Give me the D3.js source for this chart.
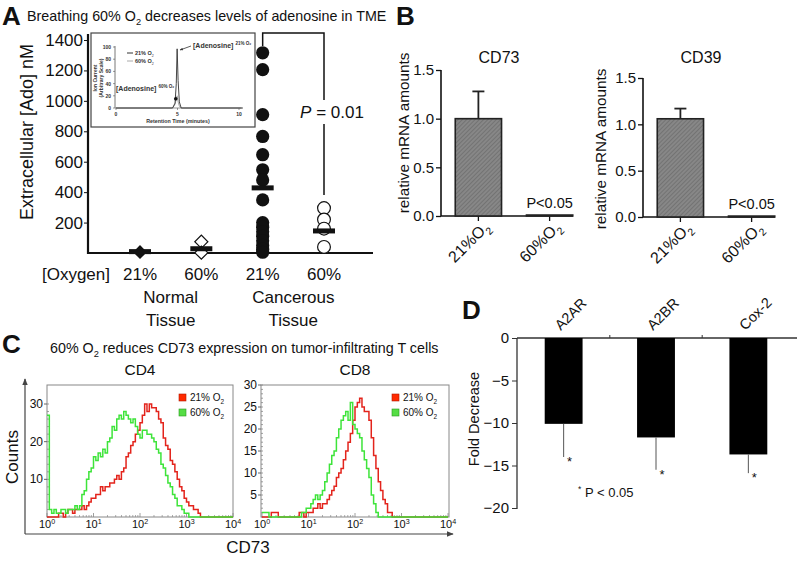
<!DOCTYPE html>
<html><head><meta charset="utf-8">
<script src="https://cdn.jsdelivr.net/npm/d3@7"></script>
<style>body{margin:0;background:#fff}svg{display:block}text{font-family:"Liberation Sans",Arial,sans-serif}</style>
</head><body><svg id="c" width="800" height="570"></svg>
<script>
// ---------------- DATA ----------------
// Panel A
const aOxygen = ["21%","60%","21%","60%"];
const aGroups = [["Normal","Tissue"],["Cancerous","Tissue"]];
const aNormal21 = [9, 3];
const aNormal60 = [74, 2];
const aCancer21 = [1316,1205,909,766,646,547,480,349,200,170,140,110,80,50,25,5];
const aCancer60 = [295,220,160,40];
const aMedians = [9, 28, 428, 145];
const aTicks = [200,400,600,800,1000,1200,1400];
const aPValue = "0.01";
// Panel A inset (chromatogram)
const insetTime = [0,4.6,4.8,4.9,4.97,5.05,5.15,5.3,10.3];
const inset21 = [0,0,8,40,97,45,10,0,0];
const inset60 = [0,0,6,15,20,10,3,0,0];
const insetTicksY = [0,20,40,60,80,100];
const insetTicksX = [0,5,10];
// Panel B
const bCats = ["21%","60%"];
const bCD73 = [1.0, 0.01];
const bCD73Err = [0.28, 0];
const bCD39 = [1.06, 0.01];
const bCD39Err = [0.11, 0];
const bTicks = [0,0.5,1.0,1.5];
// Panel C (counts per 0.05-decade bin, from 10^0)
const cBinWidth = 0.05;
const cd4Red = [0,0,0,0,0, 1,1,0,1,2, 2,1,2,2,2, 3,2,3,4,5, 5,6,6,8,7, 8,8,9,9,10, 11,10,12,13,16, 17,19,20,22,23, 25,27,30,28,30, 29,29,28,26,25, 21,19,18,15,14, 12,10,8,7,5, 4,3,3,2,2, 1,0,0,0,0, 0,0,0,0,0, 0,0,0,0,0];
const cd4Green = [27,2,1,2,1, 1,2,2,1,2, 2,2,3,2,3, 6,7,10,12,13, 16,15,17,16,18, 17,20,21,24,23, 26,27,26,28,27, 26,25,26,24,22, 21,23,23,22,22, 21,20,18,17,14, 13,11,9,8,6, 5,3,3,2,1, 1,0,0,0,0, 0,0,0,0,0, 0,0,0,0,0, 0,0,0,0,0];
const cd8Red = [0,0,0,0,1, 1,1,0,0,0, 0,0,0,0,0, 0,1,1,0,1, 1,1,2,2,3, 2,3,3,4,5, 6,7,9,10,11, 13,15,17,19,22, 25,26,27,25,24, 24,22,18,14,11, 8,6,4,3,1, 1,0,0,0,0, 0,0,0,0,0, 0,0,0,0,0, 0,0,0,0,0, 0,0,0,0,0];
const cd8Green = [1,1,1,0,0, 0,0,0,0,0, 0,0,0,0,0, 0,0,1,1,2, 2,3,4,5,4, 5,6,8,10,12, 14,15,18,20,22, 23,24,22,26,21, 20,19,18,15,13, 11,9,5,3,1, 0,0,0,0,0, 0,0,0,0,0, 0,0,0,0,0, 0,0,0,0,0, 0,0,0,0,0, 0,0,0,0,0];
const cd4YTicks = [10,20,30];
const cd8YTicks = [5,10,15,20,25,30];
const cXTicks = [0,1,2,3,4];
const cLegend = ["21% O","60% O"];
// Panel D
const dCats = ["A2AR","A2BR","Cox-2"];
const dValues = [-10.1,-11.7,-13.7];
const dErrors = [-14.0,-15.5,-15.9];
const dTicks = [0,-5,-10,-15,-20];

// ---------------- HELPERS ----------------
const F = '"Liberation Sans",Arial,sans-serif';
const svg = d3.select("#c");
svg.append("rect").attr("width",800).attr("height",570).attr("fill","#fff");
const defs = svg.append("defs");
const pat = defs.append("pattern").attr("id","hatch").attr("width",3).attr("height",3)
  .attr("patternUnits","userSpaceOnUse").attr("patternTransform","rotate(45)");
pat.append("rect").attr("width",3).attr("height",3).attr("fill","#878787");
pat.append("line").attr("x1",0).attr("y1",0).attr("x2",0).attr("y2",3).attr("stroke","#666").attr("stroke-width",1.2);
defs.append("marker").attr("id","arr").attr("viewBox","0 0 10 10").attr("refX",9).attr("refY",5)
  .attr("markerWidth",6).attr("markerHeight",6).attr("orient","auto")
  .append("path").attr("d","M0,1 L10,5 L0,9 Z").attr("fill","#444");
defs.append("marker").attr("id","arrS").attr("viewBox","0 0 10 10").attr("refX",9).attr("refY",5)
  .attr("markerWidth",4).attr("markerHeight",4).attr("orient","auto")
  .append("path").attr("d","M0,1 L10,5 L0,9 Z").attr("fill","#333");

function rich(g, x, y, segs, size, anchor, extra) {
  const t = g.append("text").attr("x",x).attr("y",y).attr("font-size",size)
    .attr("text-anchor",anchor||"start").attr("fill","#111");
  if (extra) extra(t);
  let shift = 0;
  segs.forEach(s => {
    const target = s.sub ? size*0.3 : s.sup ? -size*0.4 : 0;
    t.append("tspan").attr("dy", target - shift)
      .attr("font-size", (s.sub||s.sup) ? size*0.65 : size)
      .attr("font-style", s.it ? "italic" : null)
      .attr("font-weight", s.b ? "bold" : null)
      .text(s.t);
    shift = target;
  });
  return t;
}
function txt(g, x, y, s, size, anchor, weight) {
  return g.append("text").attr("x",x).attr("y",y).attr("font-size",size)
    .attr("text-anchor",anchor||"start").attr("font-weight",weight||null).attr("fill","#111").text(s);
}

// ---------------- PANEL A ----------------
const gA = svg.append("g");
txt(gA, 2, 25, "A", 26, "start", "bold");
rich(gA, 27, 21, [{t:"Breathing 60% O"},{t:"2",sub:true},{t:" decreases levels of adenosine in TME"}], 14.3);
const yA = d3.scaleLinear().domain([0,1400]).range([253,40]);
const xA = d3.scalePoint().domain(d3.range(aOxygen.length)).range([140,324]);
gA.append("g").attr("transform","translate(88,0)")
  .call(d3.axisLeft(yA).tickValues(aTicks).tickFormat(d3.format("d")).tickSize(4).tickPadding(1))
  .call(g=>g.select(".domain").remove())
  .attr("font-family",F).attr("font-size",17)
  .call(g=>g.selectAll("line").attr("stroke","#111"))
  .call(g=>g.selectAll("text").attr("fill","#111"));
gA.append("line").attr("x1",88).attr("x2",88).attr("y1",34).attr("y2",254).attr("stroke","#111").attr("stroke-width",2.2);
gA.append("line").attr("x1",87).attr("x2",373).attr("y1",253).attr("y2",253).attr("stroke","#111").attr("stroke-width",2.2);
gA.append("text").attr("transform","translate(33,132) rotate(-90)").attr("text-anchor","middle")
  .attr("font-size",18).attr("fill","#111").text("Extracellular [Ado] nM");
txt(gA, 110, 280, "[Oxygen]", 17, "end");
aOxygen.forEach((o,i)=>txt(gA, xA(i), 280, o, 17, "middle"));
aGroups.forEach((gr,i)=>{
  const cx = (xA(i*2)+xA(i*2+1))/2;
  txt(gA, cx, 303, gr[0], 17, "middle");
  txt(gA, cx, 326, gr[1], 17, "middle");
});
// significance bracket
gA.append("path").attr("d",`M${xA(2)},46 V33 H${xA(3)} V100 M${xA(3)},124 V195`)
  .attr("fill","none").attr("stroke","#111").attr("stroke-width",1.5);
rich(gA, xA(3)+8, 118, [{t:"P",it:true},{t:" = "+aPValue}], 17, "middle");
// points
const diamond = d3.symbol().type(d3.symbolSquare).size(85);
gA.selectAll(".n21").data(aNormal21).join("path")
  .attr("d",diamond).attr("transform",d=>`translate(${xA(0)},${yA(d)}) rotate(45)`).attr("fill","#111");
gA.selectAll(".n60").data(aNormal60).join("path")
  .attr("d",diamond).attr("transform",d=>`translate(${xA(1)},${yA(d)}) rotate(45)`)
  .attr("fill","#fff").attr("stroke","#111").attr("stroke-width",1.2);
gA.selectAll(".c21").data(aCancer21).join("circle")
  .attr("cx",xA(2)).attr("cy",d=>yA(d)).attr("r",6.6).attr("fill","#111");
gA.selectAll(".c60").data(aCancer60).join("circle")
  .attr("cx",xA(3)).attr("cy",d=>yA(d)).attr("r",6.4).attr("fill","#fff").attr("stroke","#111").attr("stroke-width",1.2);
gA.selectAll(".med").data(aMedians).join("rect")
  .attr("x",(d,i)=>xA(i)-11).attr("y",d=>yA(d)-2.5).attr("width",22).attr("height",5).attr("fill","#111");

// inset
const gI = svg.append("g");
gI.append("rect").attr("x",91).attr("y",33).attr("width",164).attr("height",94)
  .attr("fill","#fff").attr("stroke","#444").attr("stroke-width",1.2);
const xi = d3.scaleLinear().domain([0,10]).range([116,239]);
const yi = d3.scaleLinear().domain([0,100]).range([108,47]);
gI.append("line").attr("x1",115).attr("x2",115).attr("y1",46).attr("y2",108).attr("stroke","#555").attr("stroke-width",0.8);
gI.append("line").attr("x1",115).attr("x2",241).attr("y1",108).attr("y2",108).attr("stroke","#777").attr("stroke-width",0.8);
insetTicksY.forEach(v=>{
  gI.append("line").attr("x1",113).attr("x2",115).attr("y1",yi(v)).attr("y2",yi(v)).attr("stroke","#555").attr("stroke-width",0.6);
  txt(gI, 111, yi(v)+2, v, 5, "end", "bold").attr("fill","#333");
});
insetTicksX.forEach(v=>{
  gI.append("line").attr("x1",xi(v)).attr("x2",xi(v)).attr("y1",108).attr("y2",110).attr("stroke","#555").attr("stroke-width",0.6);
  txt(gI, xi(v), 116, v, 5, "middle", "bold").attr("fill","#333");
});
txt(gI, 178, 123, "Retention Time (minutes)", 5.3, "middle", "bold").attr("fill","#333");
gI.append("text").attr("transform","translate(97,78) rotate(-90)").attr("text-anchor","middle")
  .attr("font-size",5).attr("font-weight","bold").attr("fill","#333").text("Ion Current");
gI.append("text").attr("transform","translate(103,78) rotate(-90)").attr("text-anchor","middle")
  .attr("font-size",5).attr("font-weight","bold").attr("fill","#333").text("(Arbitrary Scale)");
const iline = d3.line().x((d,i)=>xi(insetTime[i])).y(d=>yi(d));
gI.append("path").attr("d",iline(inset60)).attr("fill","none").attr("stroke","#aaa").attr("stroke-width",1);
gI.append("path").attr("d",iline(inset21)).attr("fill","none").attr("stroke","#333").attr("stroke-width",0.9);
gI.append("line").attr("x1",127).attr("x2",133).attr("y1",53).attr("y2",53).attr("stroke","#333").attr("stroke-width",1);
gI.append("line").attr("x1",127).attr("x2",133).attr("y1",61).attr("y2",61).attr("stroke","#aaa").attr("stroke-width",1);
rich(gI, 135, 55, [{t:"21%  O",b:true},{t:"2",sub:true}], 5.5).attr("fill","#333");
rich(gI, 135, 63, [{t:"60% O",b:true},{t:"2",sub:true}], 5.5).attr("fill","#333");
rich(gI, 193, 48, [{t:"[Adenosine]",b:true},{t:" "},{t:"21% O\u2082",sup:true,b:true}], 7).attr("fill","#333");
gI.append("line").attr("x1",191).attr("y1",46).attr("x2",180).attr("y2",50).attr("stroke","#333").attr("stroke-width",0.8).attr("marker-end","url(#arrS)");
rich(gI, 116, 91, [{t:"[Adenosine]",b:true},{t:" "},{t:"60% O\u2082",sup:true,b:true}], 7).attr("fill","#333");
gI.append("circle").attr("cx",xi(4.86)).attr("cy",yi(15)).attr("r",1.8).attr("fill","#111");

// ---------------- PANEL B ----------------
const gB = svg.append("g");
txt(gB, 396, 25, "B", 26, "start", "bold");
function barPanel(o) {
  const y = d3.scaleLinear().domain([0,1.5]).range([o.y0,o.y1]);
  const x = d3.scaleBand().domain(bCats).range([o.x0, o.x0+146]).paddingInner(0.35).paddingOuter(0.2);
  gB.append("g").attr("transform",`translate(${o.x0},0)`)
    .call(d3.axisLeft(y).tickValues(bTicks).tickFormat(d3.format(".1f")).tickSize(5).tickPadding(2))
    .call(g=>g.select(".domain").remove())
    .attr("font-family",F).attr("font-size",15)
    .call(g=>g.selectAll("line").attr("stroke","#111").attr("stroke-width",1.3))
    .call(g=>g.selectAll("text").attr("fill","#111"));
  gB.append("line").attr("x1",o.x0).attr("x2",o.x0).attr("y1",o.y1).attr("y2",o.y0).attr("stroke","#111").attr("stroke-width",1.6);
  gB.append("line").attr("x1",o.x0).attr("x2",o.x0+132).attr("y1",o.y0).attr("y2",o.y0).attr("stroke","#111").attr("stroke-width",1.6);
  bCats.forEach((c,i)=>{
    const cx = x(c)+x.bandwidth()/2;
    gB.append("line").attr("x1",cx).attr("x2",cx).attr("y1",o.y0).attr("y2",o.y0+5).attr("stroke","#111").attr("stroke-width",1.3);
    rich(gB, 0, 0, [{t:c+"O"},{t:"2",sub:true}], 16, "end", t=>t.attr("transform",`translate(${cx+12},${o.y0+12}) rotate(-45)`));
  });
  gB.selectAll(null).data(o.vals).join("rect")
    .attr("x",(d,i)=>x(bCats[i])).attr("width",x.bandwidth())
    .attr("y",d=>y(d)).attr("height",d=>o.y0-y(d))
    .attr("fill","url(#hatch)").attr("stroke","#222").attr("stroke-width",1.6);
  o.vals.forEach((v,i)=>{
    if (!o.err[i]) return;
    const cx = x(bCats[i])+x.bandwidth()/2;
    gB.append("line").attr("x1",cx).attr("x2",cx).attr("y1",y(v)).attr("y2",y(v+o.err[i])).attr("stroke","#222").attr("stroke-width",1.8);
    gB.append("line").attr("x1",cx-6).attr("x2",cx+6).attr("y1",y(v+o.err[i])).attr("y2",y(v+o.err[i])).attr("stroke","#222").attr("stroke-width",1.8);
  });
  const cx2 = x(bCats[1])+x.bandwidth()/2;
  txt(gB, cx2, o.y0-8, "P<0.05", 14.5, "middle");
  txt(gB, o.x0+58, o.ty, o.title, 16, "middle");
  gB.append("text").attr("transform",`translate(${o.lx},${o.ly}) rotate(-90)`).attr("text-anchor","middle")
    .attr("font-size",15.3).attr("fill","#111").text("relative mRNA amounts");
}
barPanel({x0:441, y0:216, y1:70, vals:bCD73, err:bCD73Err, title:"CD73", ty:63, lx:409, ly:133});
barPanel({x0:643, y0:217, y1:78, vals:bCD39, err:bCD39Err, title:"CD39", ty:63, lx:606, ly:149});

// ---------------- PANEL C ----------------
const gC = svg.append("g");
txt(gC, 2, 353, "C", 26, "start", "bold");
rich(gC, 50, 353, [{t:"60% O"},{t:"2",sub:true},{t:" reduces CD73 expression on tumor-infiltrating T cells"}], 14.3);
gC.append("line").attr("x1",25).attr("y1",534).attr("x2",25).attr("y2",379).attr("stroke","#444").attr("stroke-width",1.2).attr("marker-end","url(#arr)");
gC.append("line").attr("x1",25).attr("y1",534).attr("x2",453).attr("y2",534).attr("stroke","#444").attr("stroke-width",1.2).attr("marker-end","url(#arr)");
gC.append("text").attr("transform","translate(18,457) rotate(-90)").attr("text-anchor","middle")
  .attr("font-size",17).attr("fill","#111").text("Counts");
txt(gC, 248, 553, "CD73", 17, "middle");

function histo(o) {
  const x = d3.scaleLinear().domain([0,4]).range([o.rx0,o.rx1]);
  const y = d3.scaleLinear().domain([0,30]).range([517,o.y30]);
  gC.append("rect").attr("x",o.bx0).attr("y",385).attr("width",o.bx1-o.bx0).attr("height",132)
    .attr("fill","none").attr("stroke","#888").attr("stroke-width",1);
  d3.range(0,31,o.minor).forEach(v=>{
    if (y(v) < 385) return;
    gC.append("line").attr("x1",o.bx0).attr("x2",o.bx0+2).attr("y1",y(v)).attr("y2",y(v)).attr("stroke","#888").attr("stroke-width",0.8);
  });
  o.yt.forEach(v=>{
    gC.append("line").attr("x1",o.bx0-3).attr("x2",o.bx0).attr("y1",y(v)).attr("y2",y(v)).attr("stroke","#666").attr("stroke-width",1);
    txt(gC, o.bx0-4, y(v)+4, v, 12, "end");
  });
  cXTicks.forEach(e=>{
    gC.append("line").attr("x1",x(e)).attr("x2",x(e)).attr("y1",517).attr("y2",513).attr("stroke","#888").attr("stroke-width",0.8);
    rich(gC, x(e), 528, [{t:"10"},{t:String(e),sup:true}], 11, "middle");
    if (e<4) d3.range(2,10).forEach(m=>{
      const xx = x(e+Math.log10(m));
      gC.append("line").attr("x1",xx).attr("x2",xx).attr("y1",517).attr("y2",515).attr("stroke","#888").attr("stroke-width",0.7);
    });
  });
  const line = d3.line().curve(d3.curveStepAfter).x(d=>x(d[0])).y(d=>y(d[1]));
  [[o.red,"#e3241c"],[o.green,"#3ee43a"]].forEach(([arr,col])=>{
    const pts = arr.map((v,i)=>[i*cBinWidth,v]);
    pts.push([4,arr[arr.length-1]]);
    gC.append("path").attr("d",line(pts)).attr("fill","none").attr("stroke",col).attr("stroke-width",1.5);
  });
  [["#ff2a00","#b01a00"],["#55dd44","#2a9a20"]].forEach((c,i)=>{
    gC.append("rect").attr("x",o.lgx).attr("y",394+i*15).attr("width",7).attr("height",7).attr("fill",c[0]).attr("stroke",c[1]).attr("stroke-width",0.6);
    rich(gC, o.lgx+11, 401+i*15, [{t:cLegend[i]},{t:"2",sub:true}], 10);
  });
  txt(gC, (o.bx0+o.bx1)/2, 375, o.title, 15.5, "middle");
}
histo({bx0:47, bx1:233, rx0:47, rx1:233, y30:404, minor:2, yt:cd4YTicks, red:cd4Red, green:cd4Green, lgx:179, title:"CD4"});
histo({bx0:261, bx1:449, rx0:262, rx1:448, y30:385, minor:1, yt:cd8YTicks, red:cd8Red, green:cd8Green, lgx:392, title:"CD8"});

// ---------------- PANEL D ----------------
const gD = svg.append("g");
txt(gD, 462, 319, "D", 26, "start", "bold");
const yD = d3.scaleLinear().domain([-20,0]).range([508,338]);
const xD = d3.scaleBand().domain(dCats).range([517,795]).paddingInner(0.59).paddingOuter(0.3);
gD.append("g").attr("transform","translate(517,0)")
  .call(d3.axisLeft(yD).tickValues(dTicks).tickFormat(d3.format("d")).tickSize(5).tickPadding(3))
  .call(g=>g.select(".domain").remove())
  .attr("font-family",F).attr("font-size",15)
  .call(g=>g.selectAll("line").attr("stroke","#333"))
  .call(g=>g.selectAll("text").attr("fill","#111"));
gD.append("line").attr("x1",517).attr("x2",517).attr("y1",338).attr("y2",509).attr("stroke","#333").attr("stroke-width",1.3);
gD.append("line").attr("x1",517).attr("x2",797).attr("y1",338).attr("y2",338).attr("stroke","#333").attr("stroke-width",1.3);
dCats.slice(1).forEach(c=>{
  const xx = xD(c) - xD.step()*xD.paddingInner()/2;
  gD.append("line").attr("x1",xx).attr("x2",xx).attr("y1",338).attr("y2",335).attr("stroke","#333");
});
gD.selectAll(null).data(dValues).join("rect")
  .attr("x",(d,i)=>xD(dCats[i])).attr("width",xD.bandwidth())
  .attr("y",yD(0)).attr("height",d=>yD(d)-yD(0)).attr("fill","#000");
dValues.forEach((v,i)=>{
  const cx = xD(dCats[i])+xD.bandwidth()/2;
  gD.append("line").attr("x1",cx).attr("x2",cx).attr("y1",yD(v)).attr("y2",yD(dErrors[i])).attr("stroke","#555").attr("stroke-width",1);
  txt(gD, cx+6, yD(dErrors[i])+9, "*", 13, "middle");
  gD.append("text").attr("transform",`translate(${cx-3},331) rotate(-45)`).attr("font-size",14.5).attr("fill","#111").text(dCats[i]);
});
rich(gD, 578, 497, [{t:"*",sup:true},{t:" P < 0.05"}], 13);
gD.append("text").attr("transform","translate(479,419) rotate(-90)").attr("text-anchor","middle")
  .attr("font-size",14.5).attr("fill","#111").text("Fold Decrease");
</script></body></html>
